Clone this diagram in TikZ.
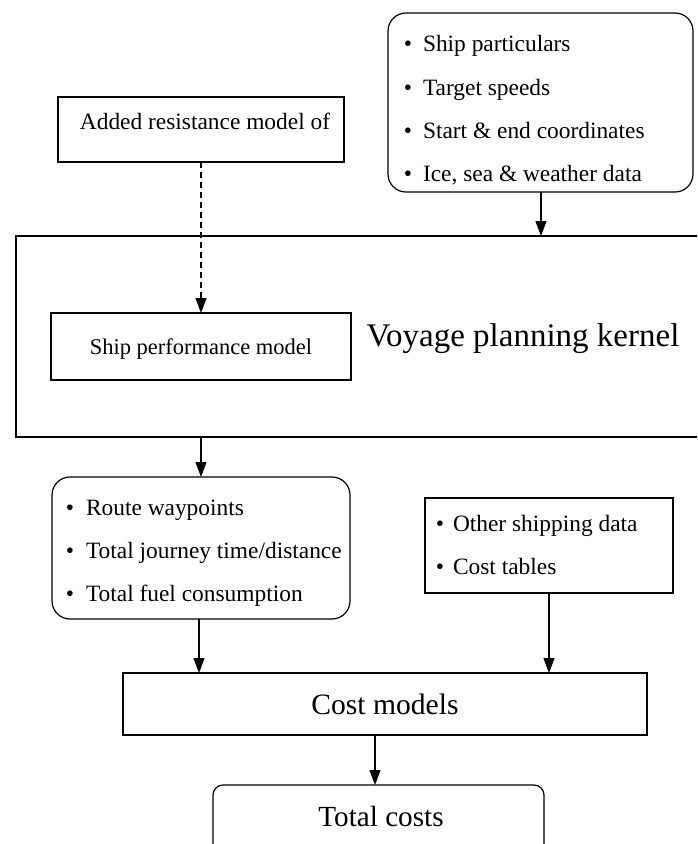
\documentclass[tikz,border=0pt]{standalone}
\usepackage{fontspec}
\setmainfont{Liberation Serif}
\usetikzlibrary{arrows.meta}
\begin{document}
\begin{tikzpicture}[x=1pt,y=-1pt,
  box/.style={draw,line width=2pt,inner sep=0pt,outer sep=0pt},
  thinbox/.style={draw,line width=1.4pt,inner sep=0pt,outer sep=0pt},
  rbox/.style={draw,line width=1.2pt,rounded corners=18pt,inner sep=0pt,outer sep=0pt},
  lbl/.style={inner sep=0pt,outer sep=0pt,anchor=base},
  item/.style={inner sep=0pt,outer sep=0pt,anchor=base west,font=\fontsize{23.4}{28}\selectfont},
  bul/.style={inner sep=0pt,outer sep=0pt,anchor=base,font=\fontsize{23.4}{28}\selectfont},
  arr/.style={line width=1.1pt,-{Triangle[width=11pt,length=15pt]}},
  darr/.style={line width=1.1pt,dash pattern=on 6pt off 4pt,-{Triangle[width=11pt,length=15pt]}}]
\useasboundingbox (0,0) rectangle (697,844);
\clip (0,0) rectangle (697,844);
% top-right input box
\node[rbox,minimum width=305pt,minimum height=179pt] (inp) at (540.5,102.5) {};
\node[bul] (ib1) at (408,51) {\textbullet};
\node[item] (it1) at (423,51) {Ship particulars};
\node[bul] (ib2) at (408,95) {\textbullet};
\node[item] (it2) at (423,95) {Target speeds};
\node[bul] (ib3) at (408,138) {\textbullet};
\node[item] (it3) at (423,138) {Start \& end coordinates};
\node[bul] (ib4) at (408,181) {\textbullet};
\node[item] (it4) at (423,181) {Ice, sea \& weather data};
% added resistance
\node[box,minimum width=286pt,minimum height=65pt] (add) at (201,129.5) {};
\node[lbl,font=\fontsize{23.4}{28}\selectfont] (addtxt) at (205,129) {Added resistance model of};
% kernel
\node[box,line width=2.5pt,minimum width=700pt,minimum height=201pt] (ker) at (366,336.5) {};
\node[lbl,font=\fontsize{33}{38}\selectfont] (kertxt) at (523,346) {Voyage planning kernel};
% ship performance
\node[thinbox,minimum width=300pt,minimum height=67pt] (spm) at (201,346.5) {};
\node[lbl,font=\fontsize{22.5}{26}\selectfont] (spmtxt) at (201,354) {Ship performance model};
% route outputs
\node[rbox,minimum width=298pt,minimum height=142pt] (rte) at (201,548) {};
\node[bul] (rb1) at (70,515) {\textbullet};
\node[item] (rt1) at (86,515) {Route waypoints};
\node[bul] (rb2) at (70,558) {\textbullet};
\node[item] (rt2) at (86,558) {Total journey time/distance};
\node[bul] (rb3) at (70,601) {\textbullet};
\node[item] (rt3) at (86,601) {Total fuel consumption};
% other data
\node[box,minimum width=248pt,minimum height=95pt] (oth) at (549,545.5) {};
\node[bul] (ob1) at (440,531) {\textbullet};
\node[item] (ot1) at (453,531) {Other shipping data};
\node[bul] (ob2) at (440,574) {\textbullet};
\node[item] (ot2) at (453,574) {Cost tables};
% cost models
\node[box,minimum width=524pt,minimum height=62pt] (cst) at (385,704) {};
\node[lbl,font=\fontsize{29.6}{34}\selectfont] (csttxt) at (385,714) {Cost models};
% total costs
\node[draw,line width=1.2pt,rounded corners=10pt,inner sep=0pt,outer sep=0pt,minimum width=331pt,minimum height=90pt] (tot) at (378.5,830) {};
\node[lbl,font=\fontsize{29.2}{34}\selectfont] (tottxt) at (381,826) {Total costs};
% connectors
\draw[arr] (inp.south -| 541,0) -- (ker.north -| 541,0);
\draw[darr] (add.south) -- (spm.north);
\draw[arr] (ker.south -| 201,0) -- (rte.north);
\draw[arr] (rte.south -| 199,0) -- (cst.north -| 199,0);
\draw[arr] (oth.south) -- (cst.north -| oth.south);
\draw[arr] (cst.south -| 375,0) -- (tot.north -| 375,0);
\end{tikzpicture}
\end{document}
